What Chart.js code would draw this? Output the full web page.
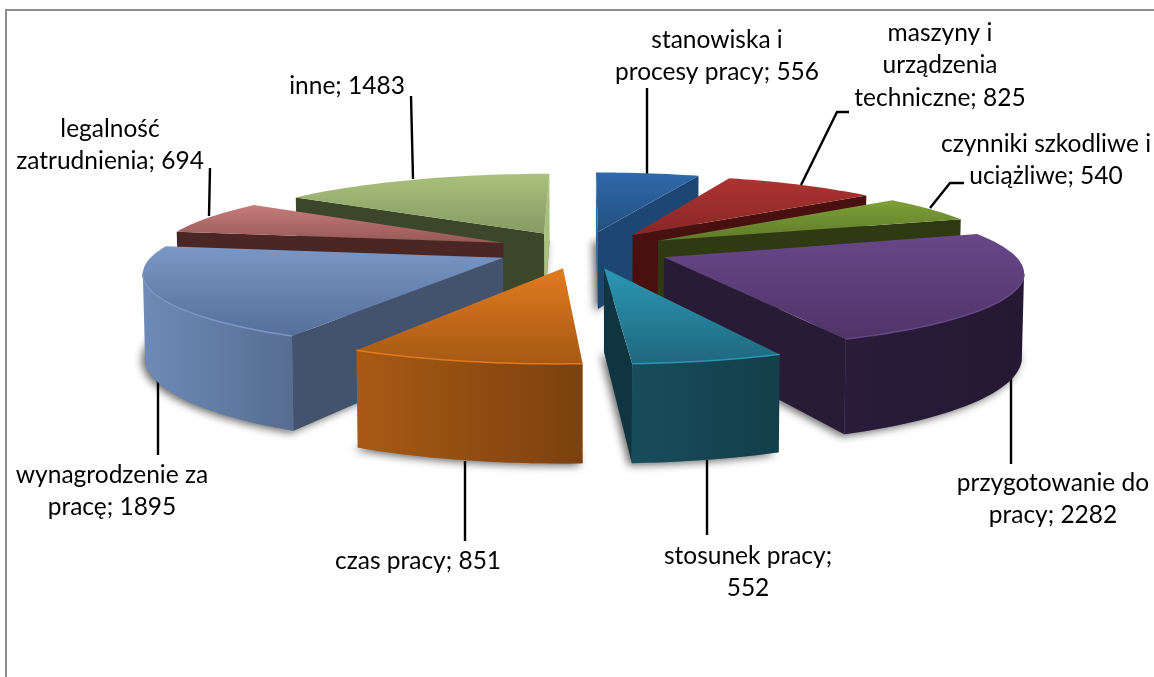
<!DOCTYPE html>
<html>
<head>
<meta charset="utf-8">
<script src="https://cdn.jsdelivr.net/npm/chart.js@4"></script>
<style>
  html, body { margin: 0; padding: 0; background: #fff; }
  canvas { display: block; }
</style>
</head>
<body>
<canvas id="pie" width="1154" height="677"></canvas>
<script>
const categories = [
  "stanowiska i procesy pracy", "maszyny i urządzenia techniczne",
  "czynniki szkodliwe i uciążliwe", "przygotowanie do pracy", "stosunek pracy",
  "czas pracy", "wynagrodzenie za pracę", "legalność zatrudnienia", "inne"
];
const values = [556, 825, 540, 2282, 552, 851, 1895, 694, 1483];

// colours per slice
const topLight = ["#2f69aa", "#ad3432", "#7fa038", "#68478a", "#2b97b3", "#e27b20", "#7a97c5", "#c67c7a", "#a9c17d"];
const topDark  = ["#24507f", "#872725", "#5f7a2a", "#4f3467", "#1f687f", "#a65914", "#566f9b", "#975856", "#869a62"];
const rimLeft  = ["#24527f", "#4c1211", "#323e14", "#2a1c3a", "#184d5b", "#a85a14", "#6d8bb8", "#4e2927", "#404c2c"];
const rimRight = ["#24527f", "#4c1211", "#2d3811", "#241832", "#133e4a", "#7c410f", "#576d90", "#452422", "#3a4527"];
const sideColor = ["#1e4672", "#481110", "#2f3a12", "#281b36", "#0f3640", "#7c410f", "#43536e", "#4a2624", "#3c472a"];

// text of the data labels, line by line, and where they sit
const labelLines = [
  ["stanowiska i", "procesy pracy; 556"],
  ["maszyny i", "urządzenia", "techniczne; 825"],
  ["czynniki szkodliwe i", "uciążliwe; 540"],
  ["przygotowanie do", "pracy; 2282"],
  ["stosunek pracy;", "552"],
  ["czas pracy; 851"],
  ["wynagrodzenie za", "pracę; 1895"],
  ["legalność", "zatrudnienia; 694"],
  ["inne; 1483"]
];
const labelPos = [[717, 40], [940, 33], [1046, 144], [1053, 483], [748, 556], [418, 561], [112, 475], [110, 129], [347, 86]];
const leaders = [
  [[647, 88], [647, 174]],
  [[849, 112], [837, 112], [801, 185]],
  [[964, 183], [950, 183], [930, 208]],
  [[1011, 377], [1011, 464]],
  [[707, 460], [707, 535]],
  [[465, 461], [465, 541]],
  [[158, 381], [158, 455]],
  [[210, 168], [209, 216]],
  [[411, 96], [413, 179]]
];

// 3D view of the pie
const RADIUS = 350;
const EXPLODE = 88;
const TILT = 0.211;
const PERSPECTIVE = 0.00045;
const PERSPECTIVE_X = 0.00047;
const SCALE_X = 0.99;
const DEPTH = 80;

function project(cx, cy, X, Y, low) {
  const s = 1 / (1 + PERSPECTIVE * Y);
  const sx = SCALE_X / (1 + PERSPECTIVE_X * Y);
  return {
    x: cx + X * sx * (low ? 0.995 : 1),
    y: cy - Y * s * TILT + (low ? DEPTH * s : 0)
  };
}

function sliceGeometry(arc) {
  const start = arc.startAngle + Math.PI / 2;
  const end = arc.endAngle + Math.PI / 2;
  const mid = (start + end) / 2;
  const ox = EXPLODE * Math.sin(mid);
  const oy = EXPLODE * Math.cos(mid);
  const world = [[ox, oy]];
  const steps = Math.max(2, Math.ceil((end - start) / 0.03));
  for (let i = 0; i <= steps; i++) {
    const a = start + (end - start) * i / steps;
    world.push([ox + RADIUS * Math.sin(a), oy + RADIUS * Math.cos(a)]);
  }
  return {
    depth: Math.cos(mid),
    top: world.map(p => project(arc.x, arc.y, p[0], p[1], false)),
    low: world.map(p => project(arc.x, arc.y, p[0], p[1], true))
  };
}

function tracePoly(ctx, pts) {
  ctx.beginPath();
  pts.forEach((p, i) => (i ? ctx.lineTo(p.x, p.y) : ctx.moveTo(p.x, p.y)));
  ctx.closePath();
}

function drawSlice(ctx, g, i) {
  const n = g.top.length;

  // flat walls: apex -> first rim point, last rim point -> apex
  [[0, 1], [n - 1, 0]].forEach(([a, b]) => {
    const dx = g.top[b].x - g.top[a].x;
    if (dx >= 0) return;
    ctx.fillStyle = dx > -12 ? topLight[i] : sideColor[i];
    tracePoly(ctx, [g.top[a], g.top[b], g.low[b], g.low[a]]);
    ctx.fill();
  });

  // curved wall: the part of the rim that runs towards the viewer
  const run = [];
  for (let k = 1; k < n - 1; k++) {
    if (g.top[k + 1].x < g.top[k].x) {
      if (!run.length) run.push(k);
      run.push(k + 1);
    }
  }
  if (run.length) {
    const xs = run.map(k => g.top[k].x);
    const grad = ctx.createLinearGradient(Math.min(...xs), 0, Math.max(...xs), 0);
    grad.addColorStop(0, rimLeft[i]);
    grad.addColorStop(1, rimRight[i]);
    ctx.fillStyle = grad;
    tracePoly(ctx, run.map(k => g.top[k]).concat(run.slice().reverse().map(k => g.low[k])));
    ctx.fill();
  }

  // top face
  const ys = g.top.map(p => p.y);
  const grad = ctx.createLinearGradient(0, Math.min(...ys), 0, Math.max(...ys));
  grad.addColorStop(0, topLight[i]);
  grad.addColorStop(1, topDark[i]);
  ctx.fillStyle = grad;
  tracePoly(ctx, g.top);
  ctx.fill();

  // small bevel on the rim
  if (run.length) {
    ctx.strokeStyle = topLight[i];
    ctx.lineWidth = 1.5;
    ctx.beginPath();
    run.forEach((k, j) => (j ? ctx.lineTo(g.top[k].x, g.top[k].y) : ctx.moveTo(g.top[k].x, g.top[k].y)));
    ctx.stroke();
  }
}

const pie3d = {
  id: "pie3d",
  beforeDraw(chart) {
    const ctx = chart.ctx;
    ctx.save();
    ctx.fillStyle = "#ffffff";
    ctx.fillRect(0, 0, chart.width, chart.height);
    ctx.strokeStyle = "#8c8c8c";
    ctx.lineWidth = 2;
    ctx.beginPath();
    ctx.moveTo(6, chart.height);
    ctx.lineTo(6, 10);
    ctx.lineTo(chart.width, 10);
    ctx.stroke();
    ctx.restore();
  },
  beforeDatasetsDraw(chart) {
    const ctx = chart.ctx;
    const arcs = chart.getDatasetMeta(0).data;
    const slices = arcs.map((arc, i) => ({ i, g: sliceGeometry(arc) }));

    // soft shadow on the ground
    ctx.save();
    ctx.shadowColor = "rgba(0,0,0,0.6)";
    ctx.shadowBlur = 9;
    ctx.shadowOffsetX = -3;
    ctx.shadowOffsetY = 2;
    ctx.fillStyle = "#777";
    slices.forEach(s => {
      tracePoly(ctx, s.g.low);
      ctx.fill();
    });
    ctx.restore();

    // leader lines go under the solids
    ctx.save();
    ctx.strokeStyle = "#000";
    ctx.lineWidth = 2.4;
    ctx.lineJoin = "round";
    leaders.forEach(line => {
      ctx.beginPath();
      line.forEach((p, k) => (k ? ctx.lineTo(p[0], p[1]) : ctx.moveTo(p[0], p[1])));
      ctx.stroke();
    });
    ctx.restore();

    // back to front
    slices.slice().sort((a, b) => b.g.depth - a.g.depth).forEach(s => drawSlice(ctx, s.g, s.i));
    return false;
  },
  afterDraw(chart) {
    const ctx = chart.ctx;
    ctx.save();
    ctx.fillStyle = "#000";
    ctx.font = "24.5px Lato";
    ctx.textAlign = "center";
    ctx.textBaseline = "middle";
    labelLines.forEach((lines, i) => {
      lines.forEach((t, k) => ctx.fillText(t, labelPos[i][0], labelPos[i][1] + k * 32.5));
    });
    ctx.restore();
  }
};

new Chart(document.getElementById("pie"), {
  type: "pie",
  data: {
    labels: categories,
    datasets: [{ data: values, backgroundColor: topLight }]
  },
  options: {
    responsive: false,
    animation: false,
    rotation: 0,
    layout: { padding: { left: 12, right: 0, top: 0, bottom: 178 } },
    plugins: { legend: { display: false }, tooltip: { enabled: false } },
    events: []
  },
  plugins: [pie3d]
});
</script>
</body>
</html>
